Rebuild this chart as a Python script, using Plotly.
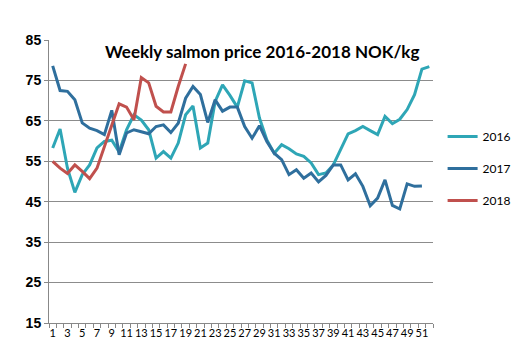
import plotly.graph_objects as go

weeks = list(range(1, 53))
tick_weeks = list(range(1, 53, 2))
tick_labels = [str(w) for w in tick_weeks]

s2016 = [58.3, 63.0, 53.3, 47.3, 51.7, 54.1, 58.3, 59.9, 60.2, 57.3,
         62.8, 66.5, 65.2, 62.8, 55.8, 57.4, 55.8, 59.5, 66.5, 68.7,
         58.3, 59.5, 69.8, 73.9, 71.3, 68.4, 74.9, 74.4, 65.7, 60.3,
         57.0, 59.1, 58.1, 56.8, 56.2, 54.6, 51.7, 52.1, 54.1, 57.8,
         61.8, 62.6, 63.6, 62.6, 61.6, 66.1, 64.3, 65.4, 67.8, 71.5,
         77.8, 78.4]
s2017 = [78.6, 72.5, 72.3, 70.2, 64.5, 63.2, 62.6, 61.6, 67.6, 56.6,
         62.0, 62.8, 62.3, 61.8, 63.6, 64.0, 62.1, 64.4, 70.6, 73.5,
         71.5, 64.6, 70.2, 67.4, 68.4, 68.4, 63.6, 60.7, 63.8, 59.9,
         57.0, 55.4, 51.7, 52.9, 50.8, 52.1, 49.9, 51.5, 54.1, 54.1,
         50.4, 51.9, 48.8, 44.0, 45.9, 50.4, 44.1, 43.2, 49.4, 48.8,
         48.9]
s2018 = [55.0, 53.3, 52.0, 54.1, 52.5, 50.7, 53.3, 58.7, 64.0, 69.2,
         68.4, 65.3, 75.7, 74.4, 68.6, 67.2, 67.2, 73.5, 79.1]

series = [("2016", s2016, "#2EA6B6"), ("2017", s2017, "#2F6F9D"), ("2018", s2018, "#C0504D")]
y_ticks = [15, 25, 35, 45, 55, 65, 75, 85]

fig = go.Figure()
for name, vals, col in series:
    fig.add_trace(go.Scatter(
        x=weeks[:len(vals)], y=vals, name=name, mode="lines",
        line=dict(color=col, width=3), legendgroup=name))

fig.update_layout(
    width=520, height=358,
    margin=dict(l=41, r=85, t=32, b=43),
    paper_bgcolor="white", plot_bgcolor="white",
    font=dict(family="Lato, Arial", color="black"),
    showlegend=True,
    legend=dict(x=1.025, y=0.71, xanchor="left", yanchor="top",
                font=dict(size=12, family="Lato, Arial"),
                tracegroupgap=13, itemwidth=30, bgcolor="rgba(0,0,0,0)"),
    annotations=[dict(text="<b>Weekly salmon price 2016-2018 NOK/kg</b>",
                      xref="paper", yref="paper", x=0.14, y=0.96,
                      xanchor="left", yanchor="middle", showarrow=False,
                      font=dict(size=17, family="Lato, Arial", color="black"))],
)
fig.update_xaxes(
    range=[0.5, 52.5], tickmode="array", tickvals=tick_weeks, ticktext=tick_labels,
    tickangle=0, ticks="", showgrid=False, zeroline=False,
    showline=True, linecolor="#888888", linewidth=1,
    tickfont=dict(size=11, family="Lato, Arial", color="black"),
    minor=dict(tick0=0.5, dtick=1, ticks="outside", ticklen=4, tickcolor="#888888", showgrid=False),
)
fig.update_yaxes(
    range=[15, 85], tickmode="array", tickvals=y_ticks,
    showgrid=True, gridcolor="#8c8c8c", gridwidth=1, zeroline=False,
    showline=True, linecolor="#888888", linewidth=1,
    ticks="outside", ticklen=4, tickcolor="#888888",
    tickfont=dict(size=14, family="Arial", color="black", weight="bold"),
)
fig.write_html("out.html")
